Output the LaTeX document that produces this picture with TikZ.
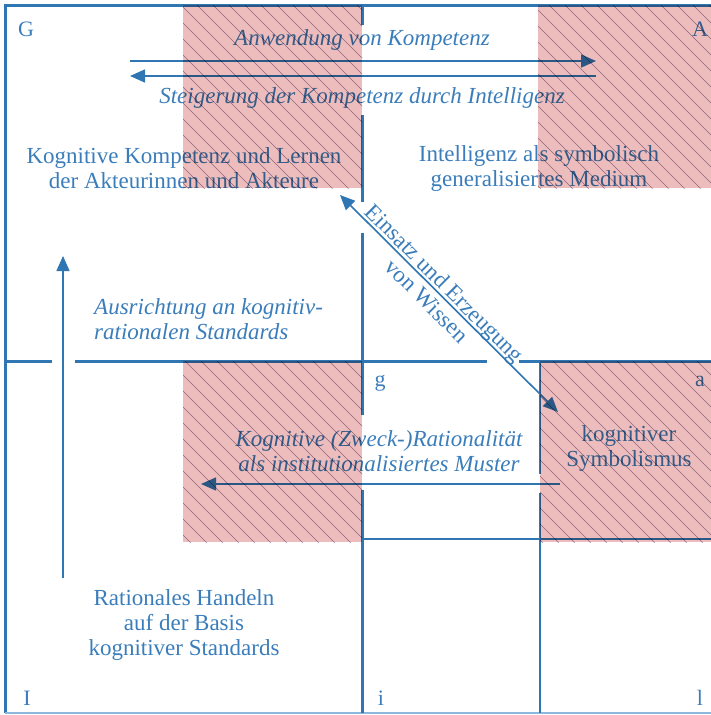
\documentclass[tikz,border=0pt]{standalone}
\usepackage{fontspec}
\setmainfont{Liberation Serif}
\usetikzlibrary{arrows.meta}
\definecolor{agilblue}{HTML}{2F76B3}
\definecolor{agiltext}{HTML}{3A7DBA}
\definecolor{agilpale}{HTML}{8DB7DC}
\definecolor{agilpink}{HTML}{EDBDBD}
\definecolor{agilhatch}{HTML}{9C8CA8}
\tikzset{
	txt/.style={text=agiltext, font=\fontsize{23}{25}\selectfont, align=center, inner sep=0pt},
	itxt/.style={txt, font=\fontsize{23}{25}\selectfont\itshape},
	corner/.style={text=agiltext, font=\fontsize{22}{25}\selectfont, inner sep=0pt, anchor=base},
	flow/.style={draw=agilblue, line width=1.6pt, -{Triangle[length=15pt,width=13pt]}},
	thickline/.style={draw=agilblue, line width=3pt},
	thinline/.style={draw=agilblue, line width=1.5pt},
	field/.style={fill=agilpink},
	hatchline/.style={draw=agilhatch, line width=0.5pt},
}
\def\hatchfield(#1,#2)(#3,#4){%
	\fill[field] (#1,#2) rectangle (#3,#4);
	\begin{scope}
		\clip (#1,#2) rectangle (#3,#4);
		\foreach \k in {-720,-704,...,720} \draw[hatchline] (\k,0) -- ++(720,720);
	\end{scope}}

\begin{document}
\begin{tikzpicture}[x=1pt,y=-1pt]
	%%%%% START %%%%%
	\useasboundingbox (0,0) rectangle (711,715);
	
	% frame
	\draw[thickline] (5,713) -- (5,5) -- (711,5);
	\draw[draw=agilpale, line width=1.2pt] (5,713) -- (711,713);
	
	% center cross, with gaps for arrows and texts
	\draw[thickline] (362,5) -- (362,25);
	\draw[thickline] (362,115) -- (362,202);
	\draw[thickline] (362,233) -- (362,415);
	\draw[thickline] (362,490) -- (362,713);
	\draw[thickline] (5,361) -- (52,361);
	\draw[thickline] (75,361) -- (487,361);
	\draw[thickline] (519,361) -- (711,361);
	
	% sub field of the lower right quadrant
	\draw[thinline] (362,539) -- (711,539);
	\draw[thinline] (540,361) -- (540,474);
	\draw[thinline] (540,493) -- (540,713);
	
	% corner letters
	\node[corner] (G) at (26,36) {G};
	\node[corner] (A) at (700,36) {A};
	\node[corner] (g) at (380,386) {g};
	\node[corner] (a) at (700,386) {a};
	\node[corner] (I) at (27,705) {I};
	\node[corner] (i) at (381,705) {i};
	\node[corner] (l) at (700,705) {l};
	
	% texts
	\node[itxt] (anwendung) at (362,40) {Anwendung von Kompetenz};
	\node[itxt] (steigerung) at (362,98) {Steigerung der Kompetenz durch Intelligenz};
	\node[txt] (kompetenz) at (184,168) {Kognitive Kompetenz und Lernen\\der Akteurinnen und Akteure};
	\node[txt] (medium) at (539,168) {Intelligenz als symbolisch\\generalisiertes Medium};
	\node[itxt, align=left, anchor=west] (ausrichtung) at (94,319) {Ausrichtung an kognitiv-\\rationalen Standards};
	\node[itxt] (muster) at (379,451) {Kognitive (Zweck-)Rationalität\\als institutionalisiertes Muster};
	\node[txt] (symbol) at (629,448) {kognitiver\\Symbolismus};
	\node[txt] (handeln) at (184,625) {Rationales Handeln\\auf der Basis\\kognitiver Standards};
	\node[txt, rotate=-45] (wissen) at (436,292) {Einsatz und Erzeugung\\von Wissen};
	
	% arrows
	\coordinate (anw-a) at (130,61);
	\coordinate (anw-b) at (596,61);
	\coordinate (stg-a) at (596,76);
	\coordinate (stg-b) at (130,76);
	\coordinate (wis-a) at (340,195);
	\coordinate (wis-b) at (558,412);
	\coordinate (aus-a) at (63,578);
	\coordinate (aus-b) at (63,256);
	\coordinate (mus-a) at (560,484);
	\coordinate (mus-b) at (201,484);
	
	\draw[flow] (anw-a) -- (anw-b);
	\draw[flow] (stg-a) -- (stg-b);
	\draw[flow, {Triangle[length=15pt,width=13pt]}-{Triangle[length=15pt,width=13pt]}] (wis-a) -- (wis-b);
	\draw[flow] (aus-a) -- (aus-b);
	\draw[flow] (mus-a) -- (mus-b);
	
	% hatched fields on top
	\begin{scope}[blend mode=multiply]
		\hatchfield(183,5)(362,188)
		\hatchfield(538,5)(711,188)
		\hatchfield(183,361)(362,542)
		\hatchfield(540,361)(711,542)
	\end{scope}
	
	%%%%% END %%%%%
\end{tikzpicture}
\end{document}
